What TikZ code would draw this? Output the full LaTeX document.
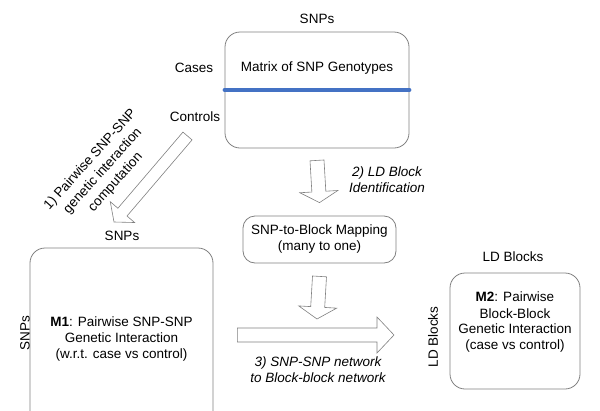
\documentclass[tikz,border=0pt]{standalone}
\usepackage{fontspec}
\setmainfont{Liberation Sans}
\usetikzlibrary{calc}

\definecolor{splitblue}{RGB}{68,114,196}

% hollow block arrow from #1 to #2: shaft half width #3, head half width #4, head length #5
\newcommand\blockarrow[5]{%
  \coordinate (hb) at ($(#2)!#5!(#1)$);
  \draw [fatarrow] ($(#1)!#3!90:(#2)$) -- ($(hb)!#3!90:(#2)$)
     -- ($(hb)!#4!90:(#2)$) -- (#2) -- ($(hb)!#4!-90:(#2)$)
     -- ($(hb)!#3!-90:(#2)$) -- ($(#1)!#3!-90:(#2)$) -- cycle;
}

\begin{document}
\begin{tikzpicture}[x=1pt,y=-1pt,
   font=\fontsize{13.5}{16}\selectfont,
   roundbox/.style={draw=black!50,line width=0.8pt,rounded corners=15pt,inner sep=0pt},
   lbl/.style={inner sep=0pt,align=center},
   step label/.style={lbl,font=\fontsize{13.5}{16}\selectfont\itshape},
   fatarrow/.style={draw=black!50,fill=white,line width=0.6pt,line join=miter}]
   \clip (0,0) rectangle (600,410);
   % Genotype matrix
   \node [roundbox,minimum width=184pt,minimum height=116pt] (matrix) at (317,90) {};
   \node [lbl] (matrixtxt) at (317,68) {Matrix of SNP Genotypes};
   \node [lbl] (snptop) at (317,19) {SNPs};
   \node [lbl] (cases) at (194,68) {Cases};
   \node [lbl] (controls) at (195,117) {Controls};
   \draw [splitblue,line width=4pt,line cap=round] (matrix.west) -- (matrix.east);
   % Block mapping
   \node [roundbox,rounded corners=12pt,minimum width=153pt,minimum height=47pt,
          align=center] (map) at (319.5,239.5) {SNP-to-Block Mapping\\(many to one)};
   % M1
   \node [roundbox,minimum width=183pt,minimum height=182pt] (mone) at (121.5,339) {};
   \node [lbl] (monetxt) at (mone.center) {\textbf{M1}: Pairwise SNP-SNP\\Genetic Interaction\\(w.r.t. case vs control)};
   \node [lbl] (monecol) at (122,236) {SNPs};
   \node [lbl,rotate=90] (monerow) at (25,333) {SNPs};
   % M2
   \node [roundbox,minimum width=130pt,minimum height=116pt] (mtwo) at (515,331) {};
   \node [lbl] (mtwotxt) at (515,322.5) {\textbf{M2}: Pairwise\\Block-Block\\Genetic Interaction\\(case vs control)};
   \node [lbl] (mtwocol) at (513,257) {LD Blocks};
   \node [lbl,rotate=90] (mtworow) at (433,337) {LD Blocks};
   % Steps
   \coordinate (ldfrom) at ([yshift=-12pt]matrix.south);
   \coordinate (ldto) at ([yshift=13pt]map.north);
   \blockarrow{ldfrom}{ldto}{7pt}{19pt}{11pt}
   \node [step label] (ldlbl) at (387,180) {2) LD Block\\Identification};
   \coordinate (mapfrom) at ([yshift=-13pt]map.south);
   \coordinate (mapto) at (317,319);
   \blockarrow{mapfrom}{mapto}{7pt}{19pt}{12pt}
   \coordinate (netfrom) at ([xshift=24pt]mone.east |- 0,335);
   \coordinate (netto) at (394,335);
   \blockarrow{netfrom}{netto}{7pt}{18pt}{17pt}
   \node [step label] (netlbl) at (318,369.5) {3) SNP-SNP network\\to Block-block network};
   \coordinate (pairfrom) at (187.5,136);
   \coordinate (pairto) at (114,222);
   \blockarrow{pairfrom}{pairto}{6pt}{16pt}{13pt}
   \node [lbl,font=\fontsize{13.5}{17}\selectfont,rotate=48] (pairlbl) at (103,171)
      {1) Pairwise SNP-SNP\\genetic interaction\\computation};
\end{tikzpicture}
\end{document}
